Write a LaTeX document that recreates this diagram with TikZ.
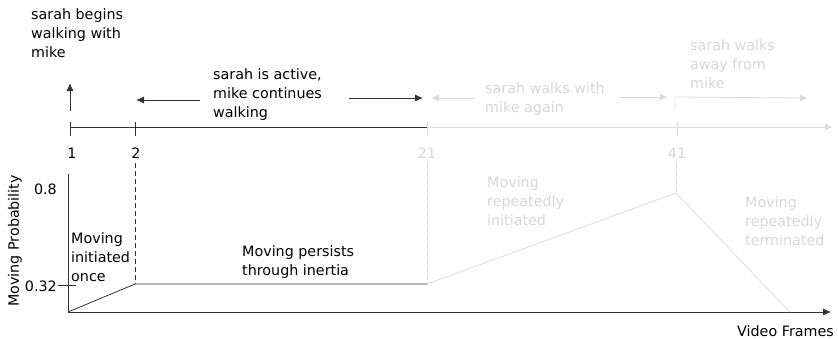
\documentclass[tikz,border=0pt]{standalone}
\usepackage{fontspec}
\setmainfont{DejaVu Sans}
\usetikzlibrary{calc,arrows.meta}

\begin{document}
\begin{tikzpicture}[x=1pt,y=-1pt,
        font=\fontsize{14.3}{19}\selectfont,
        >={Latex[length=8pt,width=7pt]},
        dark/.style={draw=black!80, line width=.8pt},
        pale/.style={draw=black!14, line width=.8pt},
        pale text/.style={text=black!16},
        dash line/.style={dash pattern=on 5pt off 3pt},
        note/.style={inner sep=0pt, align=left, anchor=north west}]
        \useasboundingbox (0,0) rectangle (838,339);

        % timeline of events
        \coordinate (t1)   at (70,127);
        \coordinate (t2)   at (135,127);
        \coordinate (t21)  at (427,127);
        \coordinate (t41)  at (677,127);
        \coordinate (tend) at (833,127);
        \draw[dark] (t1) -- (t21);
        \draw[pale,->] (t21) -- (tend);
        \foreach \t in {t1,t2} \draw[dark] ($(\t)+(0,-5)$) -- ($(\t)+(0,9)$);
        \foreach \t in {t21,t41} \draw[pale] ($(\t)+(0,-5)$) -- ($(\t)+(0,9)$);
        \node[inner sep=0pt] (n1)  at (72,153)  {1};
        \node[inner sep=0pt] (n2)  at (136,153) {2};
        \node[inner sep=0pt,pale text] (n21) at (427,153) {21};
        \node[inner sep=0pt,pale text] (n41) at (677,153) {41};

        \node[note] (begin) at (31,8) {sarah begins\\walking with\\mike};
        \coordinate (up0) at (70,111);
        \coordinate (up1) at (70,83);
        \draw[dark,->] (up0) -- (up1);

        \node[note] (active) at (213,68) {sarah is active,\\mike continues\\walking};
        \coordinate (a0) at (200,100);
        \coordinate (a1) at (136,100);
        \coordinate (a2) at (349,98);
        \coordinate (a3) at (423,98);
        \draw[dark,->] (a0) -- (a1);
        \draw[dark,->] (a2) -- (a3);

        \node[note,pale text] (again) at (485,82) {sarah walks with\\mike again};
        \coordinate (g0) at (474,98);
        \coordinate (g1) at (431,98);
        \coordinate (g2) at (619,97);
        \coordinate (g3) at (668,97);
        \draw[pale,->] (g0) -- (g1);
        \draw[pale,->] (g2) -- (g3);

        \node[note,pale text] (away) at (690,39) {sarah walks\\away from\\mike};
        \coordinate (w0) at (675,110);
        \coordinate (w1) at (675,97);
        \coordinate (w2) at (808,98);
        \draw[pale,->] (w0) -- (w1) -- (w2);

        % moving probability
        \coordinate (o)    at (68,312);
        \coordinate (ytop) at (68,174);
        \coordinate (xend) at (831,312);
        \draw[dark] (o) -- (ytop);
        \draw[dark,->] (o) -- (xend);
        \node[inner sep=0pt,anchor=east] (vf) at (834,331) {Video Frames};
        \node[inner sep=0pt,rotate=90] (mp) at (15,241) {Moving Probability};
        \node[inner sep=0pt,anchor=east] (p8)  at (57,189) {0.8};
        \node[inner sep=0pt,anchor=east] (p32) at (57,286) {0.32};
        \coordinate (k0) at (58,285);
        \coordinate (k1) at (76,285);
        \draw[dark] (k0) -- (k1);

        \coordinate (c2)   at (135,284);
        \coordinate (c21)  at (427,284);
        \coordinate (c41)  at (676,193);
        \coordinate (cend) at (790,312);
        \draw[dark] (o) -- (c2) -- (c21);
        \draw[pale] (c21) -- (c41) -- (cend);

        \coordinate (d2)  at (135,163);
        \coordinate (d21) at (427,163);
        \coordinate (d41) at (676,163);
        \draw[dark,dash line] (d2) -- (c2);
        \draw[pale,dash line] (d21) -- (c21);
        \draw[pale,dash line] (d41) -- (c41);

        \node[note] (once) at (71,232) {Moving\\initiated\\once};
        \node[note] (inertia) at (242,245) {Moving persists\\through inertia};
        \node[note,pale text] (rinit) at (487,176) {Moving\\repeatedly\\initiated};
        \node[note,pale text] (rterm) at (745,196) {Moving\\repeatedly\\terminated};
      \end{tikzpicture}
\end{document}
